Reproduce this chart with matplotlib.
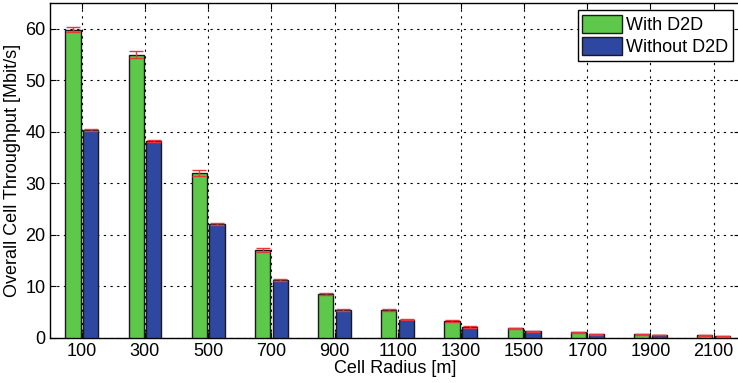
import numpy as np
import matplotlib
matplotlib.use('Agg')
import matplotlib.pyplot as plt

plt.rcParams['font.family'] = ['Liberation Sans', 'DejaVu Sans']

radius = ['100', '300', '500', '700', '900', '1100', '1300', '1500', '1700', '1900', '2100']
with_d2d = [59.8, 55.0, 32.0, 17.1, 8.5, 5.4, 3.3, 1.9, 1.1, 0.7, 0.5]
without_d2d = [40.3, 38.3, 22.1, 11.3, 5.4, 3.5, 2.1, 1.3, 0.7, 0.5, 0.3]
err_with = [0.5, 0.6, 0.5, 0.35, 0.25, 0.2, 0.15, 0.1, 0.1, 0.08, 0.06]
err_without = [0.2, 0.2, 0.25, 0.2, 0.15, 0.12, 0.1, 0.08, 0.06, 0.05, 0.05]

x = np.arange(1, len(radius) + 1)
w = 0.24

fig = plt.figure(figsize=(7.38, 3.83), dpi=100)
ax = fig.add_axes([0.068, 0.118, 0.935, 0.874])

ax.bar(x - 0.14, with_d2d, w, color='#5dc84a', edgecolor='#1a1a1a', linewidth=1.0,
       label='With D2D', zorder=3)
ax.bar(x + 0.14, without_d2d, w, color='#2e47a0', edgecolor='#1a1a1a', linewidth=1.0,
       label='Without D2D', zorder=3)
ax.errorbar(x - 0.14, with_d2d, yerr=err_with, fmt='none', ecolor='#e8373a',
            elinewidth=1.0, capsize=5, capthick=1.0, zorder=4)
ax.errorbar(x + 0.14, without_d2d, yerr=err_without, fmt='none', ecolor='#e8373a',
            elinewidth=1.0, capsize=5, capthick=1.0, zorder=4)

ax.set_xlim(0.5, 11.42)
ax.set_ylim(0, 65)
ax.set_xticks(x)
ax.set_xticklabels(radius)
ax.set_yticks(range(0, 61, 10))
ax.tick_params(direction='in', top=True, right=True, labelsize=13, length=4)
ax.grid(True, color='black', linestyle=(0, (2, 4)), linewidth=0.8, zorder=0)
for s in ax.spines.values():
    s.set_linewidth(1.0)

ax.set_xlabel('Cell Radius [m]', fontsize=13, labelpad=0)
ax.set_ylabel('Overall Cell Throughput [Mbit/s]', fontsize=13, labelpad=3)

leg = ax.legend(loc='upper right', fontsize=13, fancybox=False, framealpha=1,
                edgecolor='black', handlelength=2.2, handleheight=1.2,
                borderpad=0.25, labelspacing=0.15, handletextpad=0.25,
                borderaxespad=0.4)
leg.get_frame().set_linewidth(1.0)

fig.savefig('out.png', dpi=100)
